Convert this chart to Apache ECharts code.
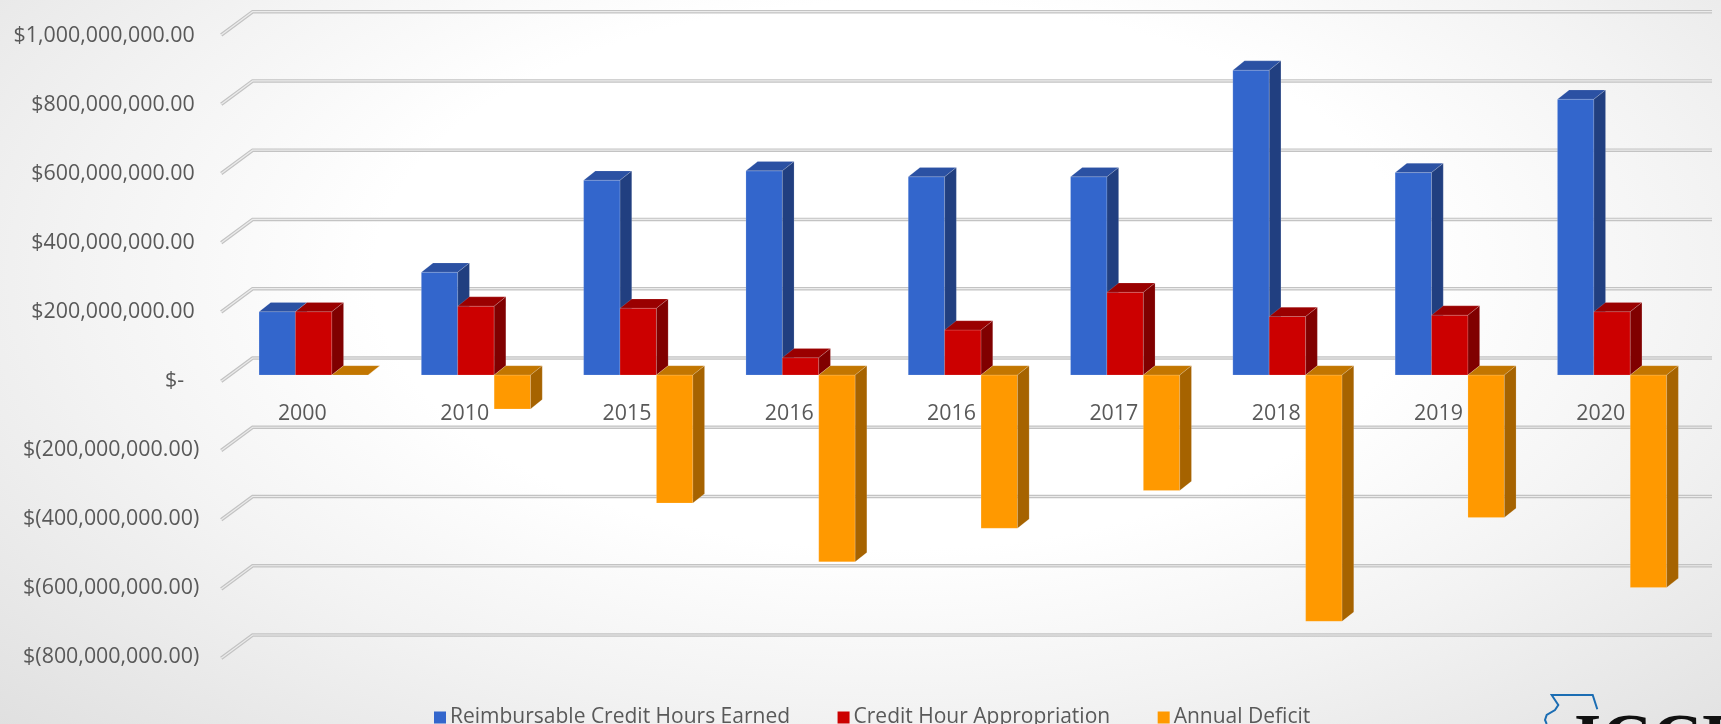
<!DOCTYPE html>
<html>
<head>
<meta charset="utf-8">
<script src="https://cdn.jsdelivr.net/npm/echarts@6/dist/echarts.min.js"></script>
<style>
  html, body { margin: 0; padding: 0; width: 1721px; height: 724px; overflow: hidden; }
  body { background: radial-gradient(ellipse 72% 90% at 52% 38%, #ffffff 42%, #f3f3f3 66%, #e0e0e0 100%); }
  #chart { width: 1721px; height: 724px; }
</style>
</head>
<body>
<div id="chart"></div>
<script>
// Categories (fiscal years) and the three measures, in dollars
const categories = ['2000', '2010', '2015', '2016', '2016', '2017', '2018', '2019', '2020'];
const seriesNames = ['Reimbursable Credit Hours Earned', 'Credit Hour Appropriation', 'Annual Deficit'];
const earned        = [183e6, 297e6, 563e6, 590e6, 573e6, 573e6, 881e6, 585e6, 797e6];
const appropriation = [183e6, 199e6, 193e6,  50e6, 130e6, 239e6, 169e6, 173e6, 183e6];
const deficit       = [0, -98e6, -370e6, -540e6, -443e6, -334e6, -712e6, -412e6, -614e6];

// Value-axis ticks and their accounting-style labels
const yTicks = [-800e6, -600e6, -400e6, -200e6, 0, 200e6, 400e6, 600e6, 800e6, 1000e6];
const yTickLabels = ['$(800,000,000.00)', '$(600,000,000.00)', '$(400,000,000.00)', '$(200,000,000.00)', '$-',
                     '$200,000,000.00', '$400,000,000.00', '$600,000,000.00', '$800,000,000.00', '$1,000,000,000.00'];

const FONT = '"Open Sans", "Noto Sans", sans-serif';
const TEXT = '#595959';
const LABEL_SIZE = 21.4;

// Face colours per series: front, top, side
const faces = [
  { front: '#3366cc', top: '#2b51a3', side: '#213f80' },
  { front: '#cc0000', top: '#9a0000', side: '#800000' },
  { front: '#ff9900', top: '#c27600', side: '#a66300' }
];

// Oblique depth of each bar (pixels right / up)
const DEPTH_X = 11.7, DEPTH_Y = 9.3;
// Oblique depth of the floor/back wall
const WALL_X = 31.4, WALL_Y = 23.3;

const yMin = -800e6, yMax = 1000e6, yStep = 200e6;

// Front-edge plane geometry; the category labels sit just under its zero line
const FRONT_TOP = 36, FRONT_H = 620.7;
const zeroOffset = -FRONT_H * (0 - yMin) / (yMax - yMin);

function barRenderer(k) {
  return function (params, api) {
    const i = api.value(0);
    const v = api.value(1);
    const base = api.coord([i, 0]);
    const end = api.coord([i, v]);
    const band = api.size([1, 0])[0];
    const w = band * 0.2243;
    const x = base[0] - 1.5 * w + k * w;
    const y0 = base[1];
    const y1 = end[1];
    const yTop = Math.min(y0, y1);
    const yBot = Math.max(y0, y1);
    const f = faces[k];
    const edge = { stroke: 'rgba(255,255,255,0.25)', lineWidth: 0.6 };
    return {
      type: 'group',
      children: [
        { type: 'rect', shape: { x: x, y: yTop, width: w, height: yBot - yTop },
          style: Object.assign({ fill: f.front }, edge) },
        { type: 'polygon', shape: { points: [[x, yTop], [x + DEPTH_X, yTop - DEPTH_Y], [x + w + DEPTH_X, yTop - DEPTH_Y], [x + w, yTop]] },
          style: Object.assign({ fill: f.top }, edge) },
        { type: 'polygon', shape: { points: [[x + w, yTop], [x + w + DEPTH_X, yTop - DEPTH_Y], [x + w + DEPTH_X, yBot - DEPTH_Y], [x + w, yBot]] },
          style: Object.assign({ fill: f.side }, edge) }
      ]
    };
  };
}

function gridLineRenderer(params, api) {
  const cs = params.coordSys;
  const y = api.coord([0, api.value(0)])[1];
  const pts = [[cs.x - WALL_X, y + WALL_Y], [cs.x, y], [cs.x + cs.width, y]];
  return {
    type: 'group',
    children: [
      { type: 'polyline', shape: { points: pts }, style: { stroke: '#c3c3c3', lineWidth: 3.6, fill: null, lineJoin: 'miter' } },
      { type: 'polyline', shape: { points: pts }, style: { stroke: '#ebebeb', lineWidth: 1.2, fill: null, lineJoin: 'miter' } }
    ]
  };
}

const measures = [earned, appropriation, deficit];

const chart = echarts.init(document.getElementById('chart'), null, { renderer: 'canvas' });

const option = {
  animation: false,
  backgroundColor: 'transparent',
  grid: [
    { left: 252.6, top: 11.7, width: 1459.4, height: 623.3 },   // back wall
    { left: 232.5, top: 29, width: 1460.7, height: 622.8 },     // bar plane
    { left: 221.2, top: FRONT_TOP, width: 1460.7, height: FRONT_H } // front edge (labels)
  ],
  xAxis: [
    { gridIndex: 0, type: 'category', data: categories, show: false },
    { gridIndex: 1, type: 'category', data: categories, show: false },
    { gridIndex: 2, type: 'category', data: categories, position: 'bottom', offset: zeroOffset,
      axisLine: { show: false, onZero: false }, axisTick: { show: false },
      axisLabel: { fontFamily: FONT, fontSize: LABEL_SIZE, color: TEXT, margin: 22.5 } }
  ],
  yAxis: [
    { gridIndex: 0, type: 'value', min: yMin, max: yMax, interval: yStep, show: false },
    { gridIndex: 1, type: 'value', min: yMin, max: yMax, interval: yStep, show: false },
    { gridIndex: 2, type: 'value', min: yMin, max: yMax, interval: yStep,
      axisLine: { show: false }, axisTick: { show: false }, splitLine: { show: false },
      axisLabel: {
        margin: 22,
        fontFamily: FONT, fontSize: LABEL_SIZE, color: TEXT,
        formatter: function (v) {
          const idx = yTicks.indexOf(v);
          const s = idx >= 0 ? yTickLabels[idx] : '';
          if (v < 0) return '{n|' + s + '}';
          if (v === 0) return '{z|' + s + '}';
          return '{p|' + s + '}';
        },
        rich: {
          n: { fontFamily: FONT, fontSize: LABEL_SIZE, color: TEXT },
          z: { fontFamily: FONT, fontSize: LABEL_SIZE, color: TEXT, padding: [0, 15, 0, 0] },
          p: { fontFamily: FONT, fontSize: LABEL_SIZE, color: TEXT, padding: [0, 4.5, 0, 0] }
        }
      } }
  ],
  legend: {
    data: seriesNames,
    left: 429, top: 702,
    itemWidth: 12, itemHeight: 12, itemGap: 47.5,
    icon: 'rect',
    textStyle: { fontFamily: FONT, fontSize: 21, color: TEXT, padding: [0, 0, 0, -1] }
  },
  series: [
    {
      type: 'custom', name: 'wall', xAxisIndex: 0, yAxisIndex: 0, z: 1,
      silent: true, renderItem: gridLineRenderer,
      data: yTicks.map(function (t) { return [t]; }),
      encode: { y: 0 }
    }
  ].concat(measures.map(function (vals, k) {
    return {
      type: 'custom', name: seriesNames[k], xAxisIndex: 1, yAxisIndex: 1, z: 3,
      itemStyle: { color: faces[k].front },
      renderItem: barRenderer(k),
      data: vals.map(function (v, i) { return [i, v]; }),
      encode: { x: 0, y: 1 }
    };
  })),
  graphic: [
    { type: 'polyline', silent: true, z: 10,
      shape: { points: [[1546.7, 724], [1545, 720], [1546.7, 715], [1555, 710], [1558.3, 705], [1551.7, 695], [1592.7, 695], [1597.3, 709.3]] },
      style: { stroke: '#1b6db3', lineWidth: 2, fill: null } },
    { type: 'text', silent: true, z: 10, left: 1574, top: 709,
      style: { text: 'ICCB', font: 'bold 70px "Liberation Serif", serif', fill: '#111111' } }
  ]
};

chart.setOption(option);
</script>
</body>
</html>
